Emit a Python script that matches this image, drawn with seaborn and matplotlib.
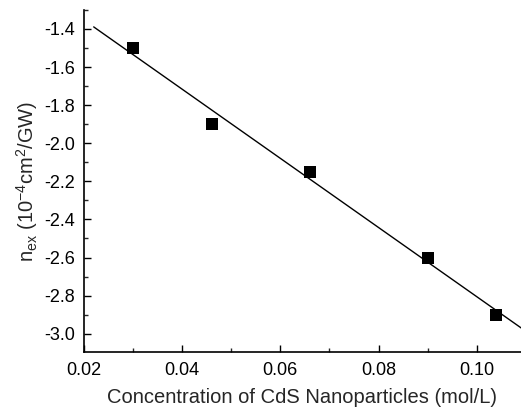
import numpy as np
import pandas as pd
import matplotlib
matplotlib.use("Agg")
import matplotlib.pyplot as plt
import seaborn as sns
from matplotlib.ticker import MultipleLocator

# Measured nonlinear refraction vs. CdS concentration
concentration = [0.030, 0.046, 0.066, 0.090, 0.104]
n_ex = [-1.50, -1.90, -2.15, -2.60, -2.90]

x_ticks = [0.02, 0.04, 0.06, 0.08, 0.10]
y_ticks = [-1.4, -1.6, -1.8, -2.0, -2.2, -2.4, -2.6, -2.8, -3.0]

sns.set_theme(style="ticks")
plt.rcParams["font.family"] = ["Liberation Sans", "DejaVu Sans"]
plt.rcParams["mathtext.fontset"] = "custom"
plt.rcParams["mathtext.rm"] = "Liberation Sans"
plt.rcParams["mathtext.it"] = "Liberation Sans"

df = pd.DataFrame({"c": concentration, "n": n_ex})

fig = plt.figure(figsize=(5.21, 4.12), dpi=100)
ax = fig.add_axes([0.161, 0.146, 0.839, 0.83])

# Least-squares linear fit drawn across the plotted range
slope, intercept = np.polyfit(df["c"], df["n"], 1)
fit_x = np.linspace(0.022, 0.11, 50)
fit = pd.DataFrame({"c": fit_x, "n": slope * fit_x + intercept})
sns.lineplot(data=fit, x="c", y="n", ax=ax, color="black", linewidth=1.0)

sns.scatterplot(data=df, x="c", y="n", ax=ax, marker="s", s=72,
                color="black", edgecolor="black", linewidth=0, zorder=3)

ax.set_xlim(0.02, 0.109)
ax.set_ylim(-3.095, -1.3)
ax.set_xticks(x_ticks)
ax.set_xticklabels([f"{v:.2f}" for v in x_ticks])
ax.set_yticks(y_ticks)
ax.set_yticklabels([f"{v:.1f}" for v in y_ticks])
ax.xaxis.set_minor_locator(MultipleLocator(0.01))
ax.yaxis.set_minor_locator(MultipleLocator(0.1))
ax.tick_params(which="major", direction="in", length=5, width=1.0,
               labelsize=13, colors="black")
ax.tick_params(which="minor", direction="in", length=3, width=1.0)
ax.tick_params(axis="x", which="major", pad=7.5)
ax.tick_params(axis="y", which="major", pad=6.5)

for side in ["top", "right"]:
    ax.spines[side].set_visible(False)
for side in ["left", "bottom"]:
    ax.spines[side].set_linewidth(1.2)
    ax.spines[side].set_color("black")

ax.set_xlabel("Concentration of CdS Nanoparticles (mol/L)", fontsize=14.5,
              labelpad=6)
ax.set_ylabel(r"n$_{ex}$ (10$^{-4}$cm$^{2}$/GW)", fontsize=14.5, labelpad=3)

fig.savefig("out.png", dpi=100)
